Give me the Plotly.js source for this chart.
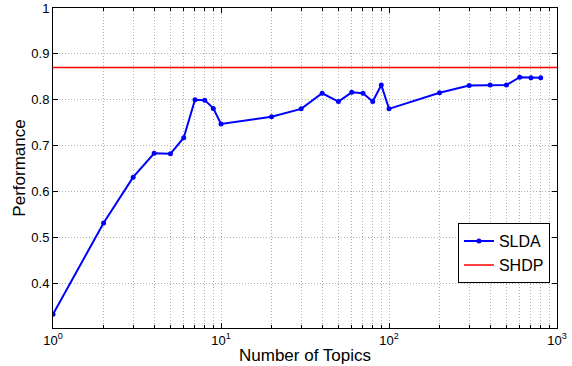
<!DOCTYPE html>
<html>
<head>
<meta charset="utf-8">
<script src="https://cdn.plot.ly/plotly-3.0.1.min.js"></script>
<style>html,body{margin:0;padding:0;background:#fff;}#chart{width:572px;height:366px;}</style>
</head>
<body>
<div id="chart"></div>
<script>
const topics = [1,2,3,4,5,6,7,8,9,10,20,30,40,50,60,70,80,90,100,200,300,400,500,600,700,800];
const sldaPerf = [0.332,0.531,0.631,0.683,0.682,0.717,0.800,0.799,0.781,0.747,0.763,0.780,0.814,0.796,0.816,0.814,0.796,0.832,0.780,0.815,0.831,0.832,0.832,0.849,0.848,0.848];
const shdpPerf = 0.870;
const xRange = [1, 1000];
const yRange = [0.302, 1];
const yTicks = [0.4,0.5,0.6,0.7,0.8,0.9,1];
const yTickText = ["0.4","0.5","0.6","0.7","0.8","0.9","1"];
const xMajor = [1,10,100,1000];
const xMajorText = ["10<sup>0</sup>","10<sup>1</sup>","10<sup>2</sup>","10<sup>3</sup>"];
const xMinor = [];
[1,10,100].forEach(d => { for (let k = 2; k <= 9; k++) xMinor.push(d*k); });

const font = "Liberation Sans, Arial, Helvetica, sans-serif";
const gridDash = '1px,2px';
const gridColor = '#b0b0b0';
const traces = [
  {x: topics, y: sldaPerf, name: 'SLDA', mode: 'lines+markers', type: 'scatter',
   line: {color: '#0000ff', width: 2}, marker: {color: '#0000ff', size: 5}},
  {x: xRange, y: [shdpPerf, shdpPerf], name: 'SHDP', mode: 'lines', type: 'scatter',
   line: {color: '#ff0000', width: 1.5}}
];
const layout = {
  width: 572, height: 366,
  margin: {l: 53, r: 15, t: 8, b: 38},
  paper_bgcolor: '#fff', plot_bgcolor: '#fff',
  font: {family: font, color: '#000', size: 13},
  showlegend: true,
  legend: {x: 0.986, xanchor: 'right', y: 0.14, yanchor: 'bottom', bordercolor: '#000', borderwidth: 1,
           bgcolor: '#fff', font: {size: 16}, tracegroupgap: 0, itemwidth: 30},
  xaxis: {type: 'log', range: [Math.log10(xRange[0]), Math.log10(xRange[1])],
    tickmode: 'array', tickvals: xMajor, ticktext: xMajorText,
    ticks: 'inside', ticklen: 5, tickcolor: '#000', mirror: 'allticks',
    showline: true, linecolor: '#000', linewidth: 1,
    showgrid: true, gridcolor: gridColor, griddash: gridDash, gridwidth: 1,
    zeroline: false,
    minor: {tickmode: 'array', tickvals: xMinor, ticks: 'inside', ticklen: 3, tickcolor: '#000',
            showgrid: true, gridcolor: gridColor, griddash: gridDash, gridwidth: 1},
    title: {text: 'Number of Topics', font: {size: 17}, standoff: 2},
    tickfont: {size: 13}},
  yaxis: {range: yRange, tickmode: 'array', tickvals: yTicks, ticktext: yTickText,
    ticks: 'inside', ticklen: 5, tickcolor: '#000', mirror: 'allticks',
    showline: true, linecolor: '#000', linewidth: 1,
    showgrid: true, gridcolor: gridColor, griddash: gridDash, gridwidth: 1,
    zeroline: false,
    title: {text: 'Performance', font: {size: 17}, standoff: 1},
    tickfont: {size: 13}}
};
Plotly.newPlot('chart', traces, layout, {staticPlot: true, displayModeBar: false});
</script>
</body>
</html>
